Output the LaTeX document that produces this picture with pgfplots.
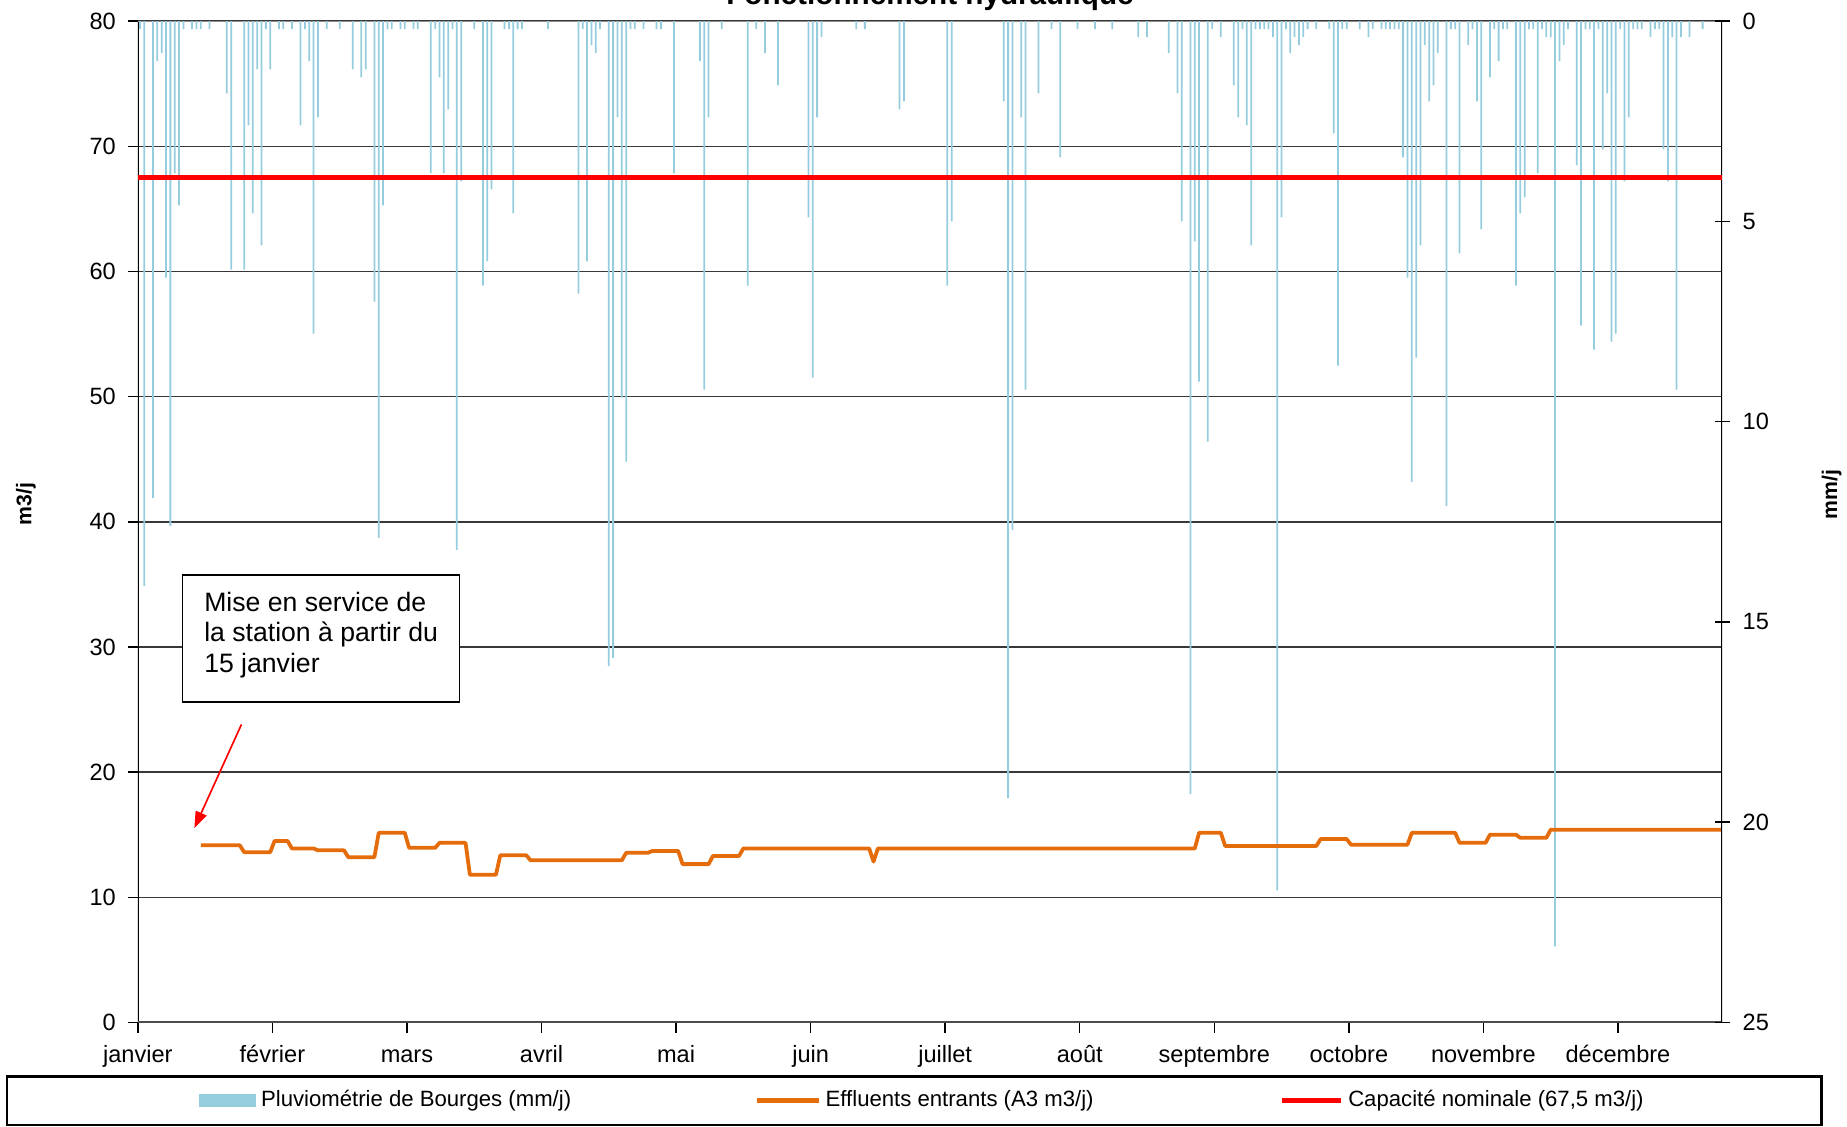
\documentclass[border=0pt]{standalone}
\usepackage{fontspec}
\setmainfont{Liberation Sans}
\usepackage{pgfplots}
\usepackage{pgfplotstable}
\pgfplotsset{compat=1.18}
\usetikzlibrary{arrows.meta}

\definecolor{rainblue}{RGB}{150,205,222}
\definecolor{effl}{RGB}{228,108,10}
\definecolor{capred}{RGB}{255,0,0}

\pgfplotstableread{
day mm
0.5 0.2
1.5 14.1
3.5 11.9
4.5 1.0
5.5 0.8
6.5 6.4
7.5 12.6
8.5 3.8
9.5 4.6
10.5 0.2
12.5 0.2
13.5 0.2
14.5 0.2
16.5 0.2
20.5 1.8
21.5 6.2
24.5 6.2
25.5 2.6
26.5 4.8
27.5 1.2
28.5 5.6
29.5 0.2
30.5 1.2
32.5 0.2
33.5 0.2
35.5 0.2
37.5 2.6
38.5 0.2
39.5 1.0
40.5 7.8
41.5 2.4
43.5 0.2
46.5 0.2
49.5 1.2
51.5 1.4
52.5 1.2
54.5 7.0
55.5 12.9
56.5 4.6
57.5 0.2
58.5 0.2
60.5 0.2
61.5 0.2
63.5 0.2
64.5 0.2
67.5 3.8
68.5 0.2
69.5 1.4
70.5 3.8
71.5 2.2
72.5 0.2
73.5 13.2
74.5 4.0
77.5 0.2
79.5 6.6
80.5 6.0
81.5 4.2
84.5 0.2
85.5 0.2
86.5 4.8
87.5 0.2
88.5 0.2
94.5 0.2
101.5 6.8
102.5 0.2
103.5 6.0
104.5 0.6
105.5 0.8
106.5 0.2
108.5 16.1
109.5 15.9
110.5 2.4
111.5 9.4
112.5 11.0
113.5 0.2
114.5 0.2
116.5 0.2
119.5 0.2
120.5 0.2
123.5 3.8
129.5 1.0
130.5 9.2
131.5 2.4
134.5 0.2
140.5 6.6
142.5 0.2
144.5 0.8
147.5 1.6
154.5 4.9
155.5 8.9
156.5 2.4
157.5 0.4
165.5 0.2
167.5 0.2
175.5 2.2
176.5 2.0
186.5 6.6
187.5 5.0
199.5 2.0
200.5 19.4
201.5 12.7
203.5 2.4
204.5 9.2
207.5 1.8
210.5 0.2
212.5 3.4
216.5 0.2
220.5 0.2
224.5 0.2
230.5 0.4
232.5 0.4
237.5 0.8
239.5 1.8
240.5 5.0
242.5 19.3
243.5 5.5
244.5 9.0
246.5 10.5
247.5 0.2
249.5 0.4
252.5 1.6
253.5 2.4
254.5 0.2
255.5 2.6
256.5 5.6
257.5 0.2
258.5 0.2
259.5 0.2
260.5 0.2
261.5 0.4
262.5 21.7
263.5 4.9
264.5 0.2
265.5 0.8
266.5 0.4
267.5 0.6
268.5 0.4
269.5 0.2
271.5 0.2
274.5 0.2
275.5 2.8
276.5 8.6
277.5 0.2
278.5 0.2
281.5 0.2
283.5 0.4
284.5 0.2
286.5 0.2
287.5 0.2
288.5 0.2
289.5 0.2
290.5 0.2
291.5 3.4
292.5 6.4
293.5 11.5
294.5 8.4
295.5 5.6
296.5 0.6
297.5 2.0
298.5 1.6
299.5 0.8
301.5 12.1
302.5 0.2
303.5 0.2
304.5 5.8
306.5 0.6
307.5 0.2
308.5 2.0
309.5 5.2
311.5 1.4
312.5 0.2
313.5 1.0
314.5 0.2
315.5 0.2
317.5 6.6
318.5 4.8
319.5 4.4
320.5 0.2
321.5 0.2
322.5 3.8
323.5 0.2
324.5 0.4
325.5 0.4
326.5 23.1
327.5 1.0
328.5 0.6
329.5 0.2
331.5 3.6
332.5 7.6
333.5 0.2
334.5 0.2
335.5 8.2
336.5 0.2
337.5 3.2
338.5 1.8
339.5 8.0
340.5 7.8
341.5 0.2
342.5 4.0
343.5 2.4
344.5 0.2
345.5 0.2
346.5 0.2
348.5 0.4
349.5 0.2
350.5 0.2
351.5 3.2
352.5 4.0
353.5 0.4
354.5 9.2
355.5 0.4
357.5 0.4
360.5 0.2
}\raintable

\pgfplotsset{
  base/.style={
    scale only axis, width=672.5pt, height=425pt,
    at={(0,0)}, anchor=south west,
    xmin=0, xmax=365, enlargelimits=false,
    /pgf/number format/assume math mode=true,
    tick label style={font=\fontsize{10}{12}\selectfont, black},
    axis line style={draw=none},
  }
}

\begin{document}
\begin{tikzpicture}
% axis 1: left scale, grid, month ticks
\begin{axis}[base,
  ymin=0, ymax=80, ytick={0,10,...,80},
  xtick={0,31,...,341},
  xticklabels={janvier,février,mars,avril,mai,juin,juillet,août,septembre,octobre,novembre,décembre},
  xtick pos=left, ytick pos=left,
  tick align=outside, major tick length=4.3pt,
  tick style={black, line width=0.6pt},
  xticklabel style={text height=7.6pt, text depth=2.2pt, yshift=-1.5pt},
  yticklabel style={xshift=-1.5pt},
  ymajorgrids, grid style={black!78, line width=0.6pt},
]
\addplot[draw=none] coordinates {(0,0) (365,80)};
\draw[black, line width=0.9pt] (rel axis cs:0,0) -- (rel axis cs:0,1);
\draw[black!70, line width=1pt] (rel axis cs:0,0) -- (rel axis cs:1,0);
\draw[black!45, line width=1pt] (rel axis cs:0,1) -- (rel axis cs:1,1);
\end{axis}
% axis 2: rainfall, reversed right scale
\begin{axis}[base,
  ymin=0, ymax=25, y dir=reverse, ytick={0,5,...,25},
  ytick pos=right, yticklabel pos=right,
  xtick=\empty,
  tick align=center, major tick length=6.4pt,
  tick style={black, line width=0.6pt},
  yticklabel style={xshift=2pt},
]
\addplot[ybar, bar width=0.75pt, bar shift=0pt, fill=rainblue, draw=none] table[x=day, y=mm] {\raintable};
\draw[black, line width=0.9pt] (rel axis cs:1,0) -- (rel axis cs:1,1);
\end{axis}
% axis 3: lines and legend
\begin{axis}[base,
  ymin=0, ymax=80, hide axis,
  legend columns=3,
  legend style={
    at={(axis description cs:-0.0833,-0.0529)}, anchor=north west,
    draw=black, line width=0.9pt, fill=white,
    font=\fontsize{9.4}{11}\selectfont,
    inner xsep=81.5pt, inner ysep=4pt,
    /tikz/column 2/.style={column sep=76pt},
    /tikz/column 4/.style={column sep=77pt},
  },
  legend cell align=left,
]
\addlegendimage{legend image code/.code={\fill[rainblue] (0pt,-2.3pt) rectangle (23.5pt,2.3pt);}}
\addlegendentry{Pluviométrie de Bourges (mm/j)}
\addplot[effl, line width=1.6pt, line join=round,
  legend image code/.code={\draw[effl, line width=2pt] (0pt,0pt) -- (26pt,0pt);}] coordinates {
(14.5,14.15) (23.5,14.15) (24.5,13.6) (30.5,13.6) (31.5,14.5) (34.5,14.5)
(35.5,13.9) (40.5,13.9) (41.5,13.75) (47.5,13.75) (48.5,13.2) (54.5,13.2)
(55.5,15.15) (61.5,15.15) (62.5,13.95) (68.5,13.95) (69.5,14.35) (75.5,14.35)
(76.5,11.8) (82.5,11.8) (83.5,13.35) (89.5,13.35) (90.5,12.95) (111.5,12.95)
(112.5,13.55) (117.5,13.55) (118.5,13.7) (124.5,13.7) (125.5,12.65) (131.5,12.65)
(132.5,13.3) (138.5,13.3) (139.5,13.9) (168.5,13.9) (169.5,12.85) (170.5,13.9)
(243.5,13.9) (244.5,15.15) (249.5,15.15) (250.5,14.1) (271.5,14.1) (272.5,14.65)
(278.5,14.65) (279.5,14.2) (292.5,14.2) (293.5,15.15) (303.5,15.15) (304.5,14.35)
(310.5,14.35) (311.5,15.0) (317.5,15.0) (318.5,14.75) (324.5,14.75) (325.5,15.4)
(364.7,15.4)};
\addlegendentry{Effluents entrants (A3 m3/j)}
\addplot[capred, line width=2.1pt,
  legend image code/.code={\draw[capred, line width=2.1pt] (0pt,0pt) -- (25pt,0pt);}] coordinates {(0,67.5) (365,67.5)};
\addlegendentry{Capacité nominale (67,5 m3/j)\hspace*{-8pt}}
\end{axis}
% annotation
\draw[black, line width=0.6pt, fill=white] (19pt,136pt) rectangle (136.5pt,190pt);
\begin{scope}[every node/.style={anchor=base west, inner sep=0pt, font=\fontsize{11.3}{13}\selectfont}]
\node at (28pt,174.5pt) {Mise en service de};
\node at (28pt,161.5pt) {la station à partir du};
\node at (28pt,148.5pt) {15 janvier};
\end{scope}
\draw[capred, line width=0.7pt, -{Triangle[length=7pt,width=5pt]}] (44pt,126.5pt) -- (24pt,82.5pt);
% axis titles
\node[rotate=90, font=\bfseries\fontsize{9}{11}\selectfont] at (-47.5pt,220pt) {m3/j};
\node[rotate=90, font=\bfseries\fontsize{9}{11}\selectfont] at (719pt,224pt) {mm/j};
% chart title (cut by the page top as in the reference)
\node[anchor=base, inner sep=0pt, font=\bfseries\fontsize{12.6}{14}\selectfont] at (336.25pt,432pt) {Fonctionnement hydraulique};
\pgfresetboundingbox
\useasboundingbox (-58.5pt,-44pt) rectangle (725.5pt,434pt);
\end{tikzpicture}
\end{document}
